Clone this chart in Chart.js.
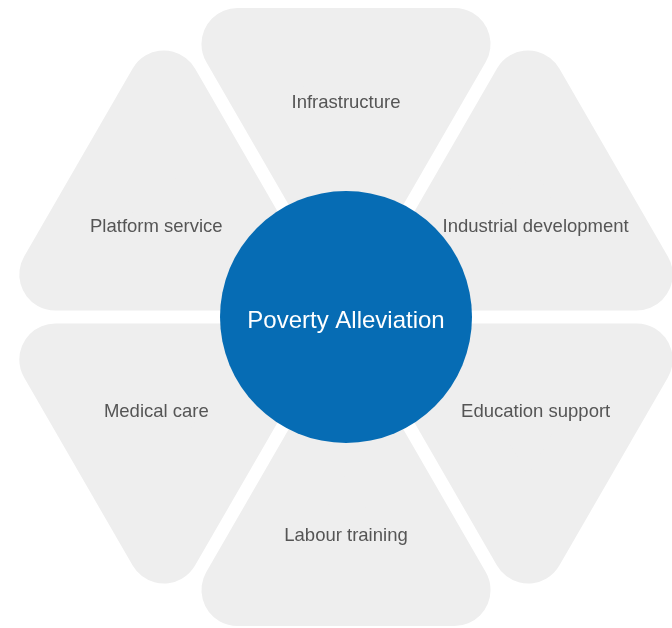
<!DOCTYPE html>
<html>
<head>
<meta charset="utf-8">
<script src="https://cdn.jsdelivr.net/npm/chart.js@4"></script>
<style>
  html, body { margin: 0; padding: 0; background: #ffffff; }
  #wrap { width: 672px; height: 628px; position: relative; }
</style>
</head>
<body>
<div id="wrap"><canvas id="hexChart" width="672" height="628"></canvas></div>
<script>
// Data
const categories = ['Infrastructure', 'Industrial development', 'Education support', 'Labour training', 'Medical care', 'Platform service'];
const shares = [1, 1, 1, 1, 1, 1];
const centerLabel = 'Poverty Alleviation';

// Look
const colors = {
    segment: '#eeeeee',
    hub: '#066cb4',
    text: '#555555',
    hubText: '#ffffff'
};
const START_ANGLE = 120;   // degrees, first segment starts here and goes clockwise
const OUTER = 309;         // distance centre -> outer edge (px units)
const GAP = 13;
const ROUND = 36;
const HUB_R = 126;
const LABEL_R = 219;

const rad = d => d * Math.PI / 180;

// inset a convex CCW polygon by d
function insetPolygon(pts, d) {
    const n = pts.length;
    const lines = [];
    for (let i = 0; i < n; i++) {
        const a = pts[i], b = pts[(i + 1) % n];
        const dx = b.x - a.x, dy = b.y - a.y;
        const len = Math.hypot(dx, dy);
        const nx = -dy / len, ny = dx / len;
        lines.push({ p: { x: a.x + nx * d, y: a.y + ny * d }, v: { x: dx, y: dy } });
    }
    const out = [];
    for (let i = 0; i < n; i++) {
        const l1 = lines[(i - 1 + n) % n], l2 = lines[i];
        const den = l1.v.x * l2.v.y - l1.v.y * l2.v.x;
        const t = ((l2.p.x - l1.p.x) * l2.v.y - (l2.p.y - l1.p.y) * l2.v.x) / den;
        out.push({ x: l1.p.x + l1.v.x * t, y: l1.p.y + l1.v.y * t });
    }
    return out;
}

const total = shares.reduce((a, b) => a + b, 0);
const segments = [];
let angle = START_ANGLE;
shares.forEach((s, i) => {
    const span = s / total * 360;
    const a2 = angle, a1 = angle - span;
    // scale units are pixels, so the gap offset keeps outer edge at OUTER
    const Rg = (OUTER + GAP / 2) / Math.cos(rad(span / 2));
    const tri = [
        { x: 0, y: 0 },
        { x: Rg * Math.cos(rad(a1)), y: Rg * Math.sin(rad(a1)) },
        { x: Rg * Math.cos(rad(a2)), y: Rg * Math.sin(rad(a2)) }
    ];
    const inner = insetPolygon(tri, GAP / 2 + ROUND);
    inner.push({ ...inner[0] });
    segments.push({ label: categories[i], poly: inner, mid: (a1 + a2) / 2 });
    angle = a1;
});

const labelPlugin = {
    id: 'hexLabels',
    afterDatasetsDraw(chart) {
        const { ctx, scales: { x, y } } = chart;
        ctx.save();
        ctx.textAlign = 'center';
        ctx.textBaseline = 'middle';
        ctx.fillStyle = colors.text;
        ctx.font = "18.5px 'Liberation Sans', Arial, sans-serif";
        segments.forEach(seg => {
            const m = rad(seg.mid);
            const side = Math.abs(Math.cos(m)) > 0.5;
            const lx = LABEL_R * Math.cos(m);
            const ly = LABEL_R * Math.sin(m) * (side ? 0.845 : 0.99) - 2.5;
            ctx.fillText(seg.label, x.getPixelForValue(lx), y.getPixelForValue(ly));
        });
        ctx.fillStyle = colors.hubText;
        ctx.font = "24px 'Liberation Sans', Arial, sans-serif";
        ctx.fillText(centerLabel, x.getPixelForValue(0), y.getPixelForValue(-4.5));
        ctx.restore();
    }
};

const datasets = [{
    type: 'bubble',
    label: centerLabel,
    data: [{ x: 0, y: 0, r: HUB_R }],
    backgroundColor: colors.hub,
    borderWidth: 0,
    clip: false
}];
segments.forEach(seg => {
    datasets.push({
        type: 'scatter',
        label: seg.label,
        data: seg.poly,
        showLine: true,
        fill: 'shape',
        backgroundColor: colors.segment,
        borderColor: colors.segment,
        borderWidth: ROUND * 2,
        borderJoinStyle: 'round',
        borderCapStyle: 'round',
        pointRadius: 0,
        tension: 0,
        clip: false
    });
});

new Chart(document.getElementById('hexChart').getContext('2d'), {
    type: 'scatter',
    data: { datasets },
    options: {
        responsive: false,
        animation: false,
        events: [],
        layout: { padding: 0, autoPadding: false },
        plugins: { legend: { display: false }, tooltip: { enabled: false } },
        scales: {
            x: { type: 'linear', min: -346, max: 326, display: false },
            y: { type: 'linear', min: -311, max: 317, display: false }
        }
    },
    plugins: [labelPlugin]
});
</script>
</body>
</html>
